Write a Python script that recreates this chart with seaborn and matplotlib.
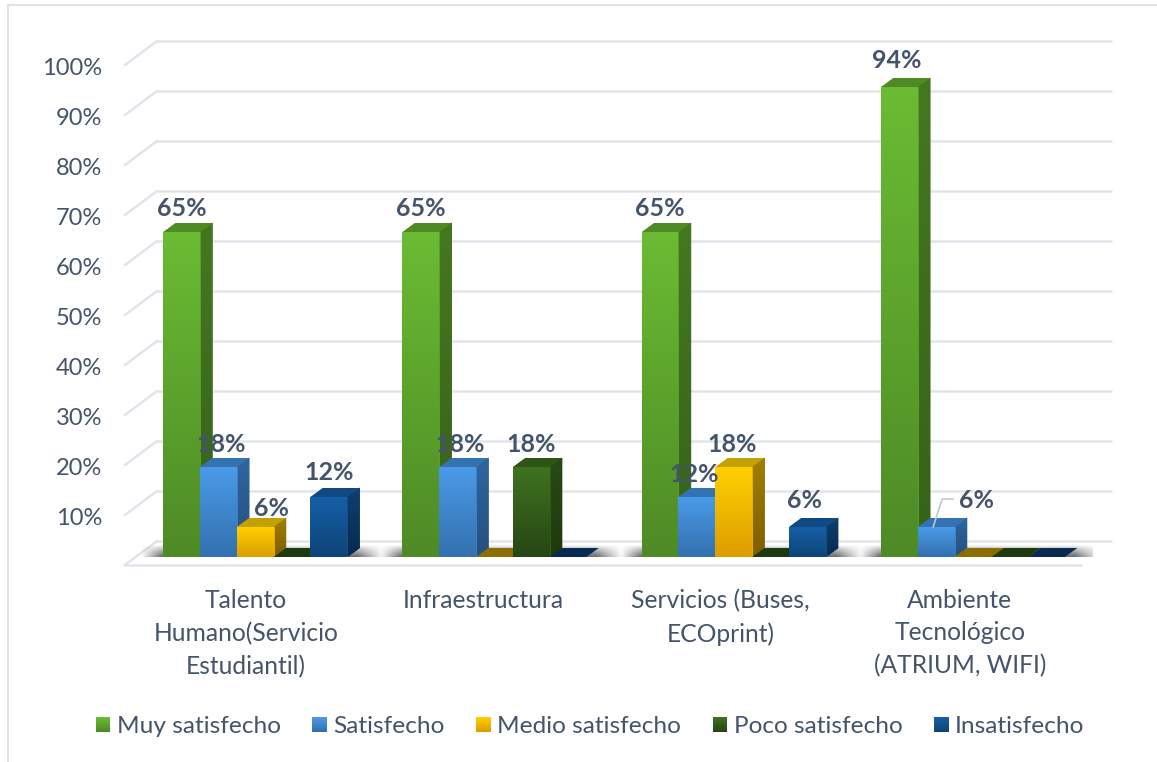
import numpy as np
import pandas as pd
import matplotlib
matplotlib.use("Agg")
import matplotlib.pyplot as plt
from matplotlib.colors import to_rgb
from matplotlib.legend_handler import HandlerBase
from matplotlib.lines import Line2D
from matplotlib.patches import Patch, Polygon, Rectangle
from matplotlib.transforms import ScaledTranslation
import seaborn as sns

categories = ["Talento\nHumano(Servicio\nEstudiantil)", "Infraestructura",
              "Servicios (Buses,\nECOprint)", "Ambiente\nTecnológico\n(ATRIUM, WIFI)"]
series = ["Muy satisfecho", "Satisfecho", "Medio satisfecho", "Poco satisfecho", "Insatisfecho"]
muy_satisfecho = [65, 65, 65, 94]
satisfecho = [18, 18, 12, 6]
medio_satisfecho = [6, 0, 18, 0]
poco_satisfecho = [0, 18, 0, 0]
insatisfecho = [12, 0, 6, 0]
y_ticks = [10, 20, 30, 40, 50, 60, 70, 80, 90, 100]

# colour style per series: front top, front bottom, side top, side bottom, top face, floor face
styles = {
    "Muy satisfecho": ("#6ABB33", "#4E8B26", "#44781F", "#37611A", "#4F8A25", "#3C6A1C"),
    "Satisfecho": ("#4A9AE8", "#3371AE", "#2F659E", "#25507F", "#3373B2", "#25507F"),
    "Medio satisfecho": ("#FFD000", "#DC9E00", "#A08000", "#7E5E00", "#C4A000", "#8A6E00"),
    "Poco satisfecho": ("#3F7220", "#264714", "#274A14", "#1F3A0E", "#2E5416", "#1E3A0E"),
    "Insatisfecho": ("#155FA6", "#0E4478", "#0E3F70", "#082A4D", "#0F4A82", "#062C52"),
}
TEXT = "#44546A"
GRID = "#E1E5EB"
FONT = "Lato"

W, H = 1157, 762
sns.set_theme(style="white")
plt.rcParams["font.family"] = [FONT, "DejaVu Sans"]

fig = plt.figure(figsize=(W / 100, H / 100), dpi=100, facecolor="white")
AX_L, AX_R, AX_B, AX_T = 135.5, 1092.6, 557.0, 57.0
ax = fig.add_axes([AX_L / W, 1 - AX_B / H, (AX_R - AX_L) / W, (AX_B - AX_T) / H])

df = pd.DataFrame({
    "categoria": categories * len(series),
    "serie": np.repeat(series, len(categories)),
    "valor": muy_satisfecho + satisfecho + medio_satisfecho + poco_satisfecho + insatisfecho,
})
sns.barplot(data=df, x="categoria", y="valor", hue="serie", order=categories, hue_order=series,
            palette=[styles[s][0] for s in series], width=0.769, gap=0, legend=False, ax=ax,
            linewidth=0, errorbar=None)

XPX = 4.0 / (AX_R - AX_L)   # data units per pixel
YPX = 100.0 / (AX_B - AX_T)
DX, DY = 12.3 * XPX, 9 * YPX


def grad_poly(verts, top, bottom, z):
    verts = np.asarray(verts, float)
    x0, x1 = verts[:, 0].min(), verts[:, 0].max()
    y0, y1 = verts[:, 1].min(), verts[:, 1].max()
    top_c, bottom_c = np.array(to_rgb(top)), np.array(to_rgb(bottom))
    c = np.linspace(0, 1, 32)[:, None, None]
    img = (1 - c) * top_c[None, None, :] + c * bottom_c[None, None, :]
    ax.add_patch(Polygon(verts, closed=True, facecolor=(top_c + bottom_c) / 2,
                         edgecolor=(top_c + bottom_c) / 2, lw=0.6, zorder=z - 0.01))
    im = ax.imshow(img, extent=(x0, x1, y0, y1), origin="upper", aspect="auto", zorder=z,
                   interpolation="bilinear")
    poly = Polygon(verts, closed=True, transform=ax.transData, facecolor="none", edgecolor="none")
    ax.add_patch(poly)
    im.set_clip_path(poly)


labels = []
spans = {}
for h, (name, container) in enumerate(zip(series, ax.containers)):
    st = styles[name]
    for g, bar in enumerate(container.patches):
        x0, w, v = bar.get_x(), bar.get_width(), bar.get_height()
        x1 = x0 + w
        z = 10 + g * 10 + h
        bar.set_zorder(z + 0.5)
        lo, hi = spans.get(g, (x0, x1))
        spans[g] = (min(lo, x0), max(hi, x1))
        if v <= 0:
            ax.add_patch(Polygon([(x0, 0), (x1, 0), (x1 + DX, DY), (x0 + DX, DY)],
                                 facecolor=st[5], edgecolor="none", zorder=z))
            continue
        grad_poly([(x1, 0), (x1 + DX, DY), (x1 + DX, v + DY), (x1, v)], st[2], st[3], z)
        ax.add_patch(Polygon([(x0, v), (x1, v), (x1 + DX, v + DY), (x0 + DX, v + DY)],
                             facecolor=st[4], edgecolor="none", zorder=z))
        grad_poly([(x0, 0), (x1, 0), (x1, v), (x0, v)], st[0], st[1], z + 0.6)
        labels.append((g, h, x0 + w / 2, v))

# soft floor shadow beneath each group
for g, (lo, hi) in spans.items():
    ex0, ex1 = lo - 22 * XPX, hi + 36 * XPX
    yy = np.linspace(0, 1, 30)[:, None] ** 0.8
    xx = np.linspace(0, 1, 200)[None, :]
    span_px = (ex1 - ex0) / XPX
    edge = np.clip(xx * span_px / 20, 0, 1) * np.clip((1 - xx) * span_px / 26, 0, 1)
    alpha = 0.8 * yy * edge
    rgba = np.zeros((30, 200, 4))
    rgba[..., :3] = 0.22
    rgba[..., 3] = alpha
    ax.imshow(rgba, extent=(ex0, ex1, -0.2, 12 * YPX), origin="upper", aspect="auto", zorder=5)

# walls: gridlines on back wall, diagonals on left wall, floor
FRONT_Y, BACK_Y = -8 * YPX, 16 * YPX
for v in [0] + y_ticks:
    ax.plot([(157 - AX_L) * XPX - 0.5, (1112 - AX_L) * XPX - 0.5], [v + BACK_Y] * 2,
            color=GRID, lw=1.8, clip_on=False, zorder=2, solid_capstyle="butt")
    ax.plot([(125 - AX_L) * XPX - 0.5, (157 - AX_L) * XPX - 0.5], [v + FRONT_Y, v + BACK_Y],
            color=GRID, lw=1.8, clip_on=False, zorder=2, solid_capstyle="round")
ax.plot([(125 - AX_L) * XPX - 0.5, (1081 - AX_L) * XPX - 0.5], [FRONT_Y] * 2,
        color=GRID, lw=1.8, clip_on=False, zorder=2)

# data labels (pixel nudges from each bar)
nudges = {(0, 1): (3, -2), (0, 2): (16, -6), (1, 1): (3, -2), (1, 3): (0, -2), (2, 1): (-3, -1),
          (2, 2): (-2, -2), (2, 4): (-3, 2), (3, 0): (-3, 2), (3, 1): (40, 2), (0, 4): (0, 0)}
for g, h, xc, v in labels:
    nx, ny = nudges.get((g, h), (0, 0))
    ax.annotate(f"{v:.0f}%", (xc, v), xytext=(nx * 0.72, (24 + ny) * 0.72), textcoords="offset points",
                ha="center", va="center", fontsize=18, fontweight="bold", color=TEXT,
                zorder=200, annotation_clip=False)

# leader line for the small value of the last group
b = ax.containers[1].patches[3]
bx, bv = b.get_x() + b.get_width() / 2, b.get_height()
ax.plot([bx - 3 * XPX, bx + 6 * XPX, bx + 17 * XPX], [bv, bv + 28 * YPX, bv + 28 * YPX],
        color="#BFC8D6", lw=1.2, zorder=150, clip_on=False)

ax.set_xlim(-0.5, 3.5)
ax.set_ylim(0, 100)
for s in ax.spines.values():
    s.set_visible(False)
ax.set_xlabel("")
ax.set_ylabel("")
ax.patch.set_visible(False)

# axis labels
ax.set_yticks(y_ticks)
ax.set_yticklabels([f"{t}%" for t in y_ticks])
ax.tick_params(axis="y", length=0, pad=24.1, labelsize=17, labelcolor=TEXT)
for lab in ax.get_yticklabels():
    lab.set_transform(lab.get_transform() + ScaledTranslation(0, -9.5 / 100, fig.dpi_scale_trans))
ax.tick_params(axis="x", length=0, pad=23, labelsize=17.7, labelcolor=TEXT)
for lab, off in zip(ax.get_xticklabels(), [-9, -11, -13, -13]):
    lab.set_linespacing(1.5)
    lab.set_transform(lab.get_transform() + ScaledTranslation(off / 100, 0, fig.dpi_scale_trans))


class GradHandler(HandlerBase):
    def create_artists(self, legend, orig, xd, yd, width, height, fontsize, trans):
        top, bottom = orig.get_label_colors
        n = 12
        out = []
        for i in range(n):
            t = i / (n - 1)
            col = (1 - t) * np.array(to_rgb(top)) + t * np.array(to_rgb(bottom))
            hh = 15 * 0.72 / n
            r = Rectangle((-xd, -yd + height / 2 + 7.5 * 0.72 - (i + 1) * hh), width, hh + 0.2,
                          facecolor=col, edgecolor="none", transform=trans)
            out.append(r)
        return out


handles = []
for s in series:
    p = Patch(label=s)
    p.get_label_colors = (styles[s][0], styles[s][1])
    handles.append(p)
leg = ax.legend(handles=handles, loc="center", ncol=5, frameon=False, fontsize=17.6,
                handler_map={Patch: GradHandler()},
                bbox_to_anchor=((590 - AX_L) / (AX_R - AX_L), -(725 - AX_B) / (AX_B - AX_T)),
                handlelength=0.6, handleheight=1.0, handletextpad=0.25, columnspacing=1.3,
                labelcolor=TEXT, borderpad=0, borderaxespad=0)

# chart-area frame
fig.add_artist(Line2D([8 / W, 8 / W], [0, 1 - 5 / H], color="#DEE4EA", lw=1.5))
fig.add_artist(Line2D([8 / W, 1], [1 - 5 / H, 1 - 5 / H], color="#DEE4EA", lw=1.5))

fig.savefig("out.png", dpi=100)
